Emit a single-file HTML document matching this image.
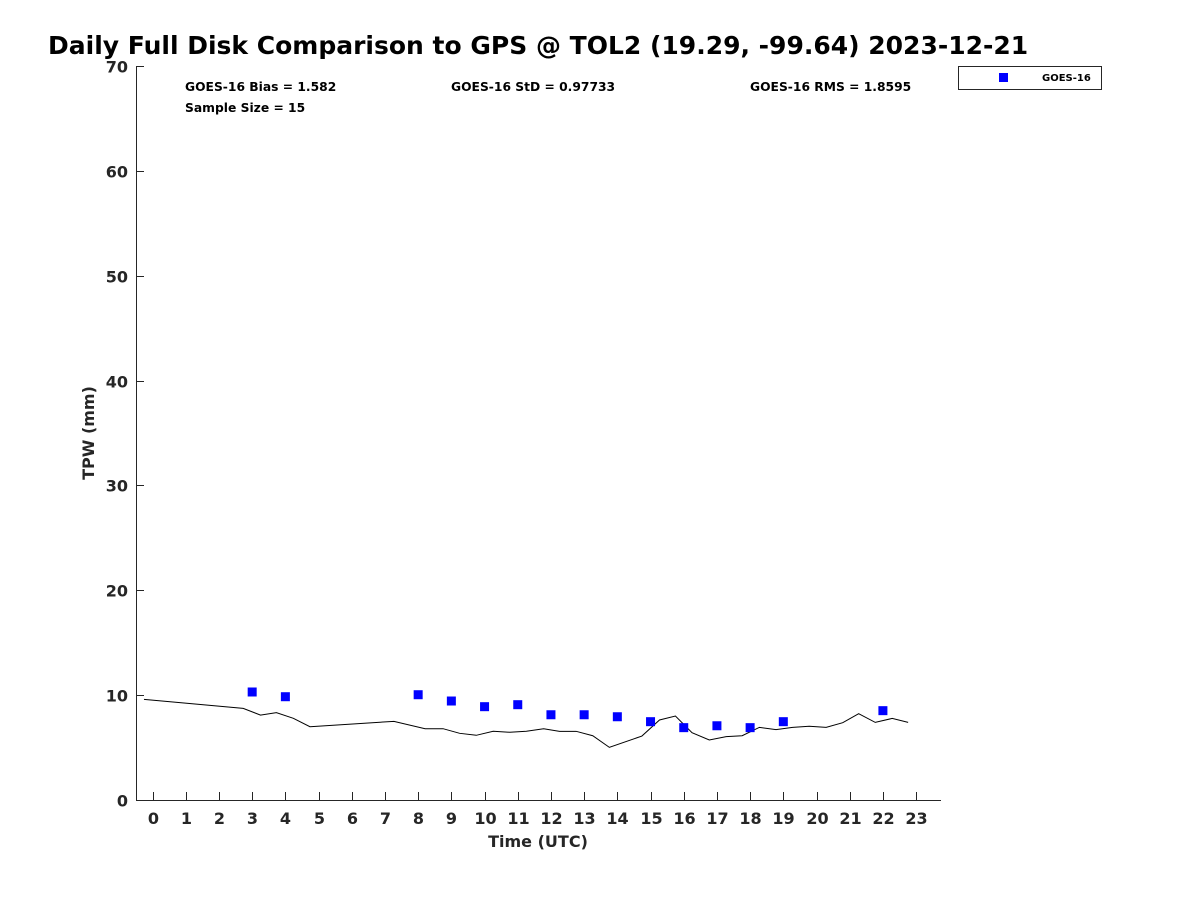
<!DOCTYPE html>
<html><head><meta charset="utf-8"><style>
body{margin:0;background:#fff;}
svg{display:block;font-family:"DejaVu Sans","Liberation Sans",sans-serif;}
</style></head><body>
<svg id="chart" width="1200" height="900">
<text x="48" y="54" font-size="25" font-weight="bold" fill="#000">Daily Full Disk Comparison to GPS @ TOL2 (19.29, -99.64) 2023-12-21</text>
<g font-size="12.3" font-weight="bold" fill="#000">
<text x="185" y="91">GOES-16 Bias = 1.582</text>
<text x="185" y="112">Sample Size = 15</text>
<text x="451" y="91">GOES-16 StD = 0.97733</text>
<text x="750" y="91">GOES-16 RMS = 1.8595</text>
</g>
<g>
<rect x="958.5" y="66.5" width="143" height="23" fill="#fff" stroke="#262626"/>
<rect x="999" y="73" width="9" height="9" fill="#0000ff"/>
<text x="1042" y="81" font-size="10" font-weight="bold" fill="#000">GOES-16</text>
</g>
<g id="axes"></g>
<g id="marks"></g>
<text x="538" y="847" font-size="16" font-weight="bold" fill="#262626" text-anchor="middle">Time (UTC)</text>
<text transform="translate(94,433) rotate(-90)" font-size="16" font-weight="bold" fill="#262626" text-anchor="middle">TPW (mm)</text>
</svg>
<script>
const gpsHours=[-0.26,2.73,3.25,3.73,4.24,4.74,7.27,8.21,8.75,9.25,9.75,10.26,10.76,11.26,11.78,12.26,12.76,13.26,13.76,14.74,15.27,15.75,16.25,16.77,17.28,17.76,18.28,18.78,19.28,19.78,20.29,20.79,21.27,21.77,22.28,22.76];
const gpsValues=[9.6,8.74,8.1,8.33,7.79,6.99,7.5,6.8,6.8,6.36,6.17,6.56,6.46,6.56,6.8,6.55,6.55,6.13,5.02,6.1,7.63,8.01,6.42,5.72,6.04,6.13,6.93,6.71,6.93,7.03,6.93,7.37,8.23,7.4,7.78,7.4];
const goesHours=[3,4,8,9,10,11,12,13,14,15,16,17,18,19,22];
const goesValues=[10.3,9.85,10.04,9.44,8.9,9.09,8.13,8.13,7.94,7.47,6.9,7.08,6.9,7.47,8.52];
const xTicks=[0,1,2,3,4,5,6,7,8,9,10,11,12,13,14,15,16,17,18,19,20,21,22,23];
const yTicks=[0,10,20,30,40,50,60,70];
const X0=136,X1=941,Y0=800,Y1=66,XMIN=-0.5,XMAX=23.75,YMIN=0,YMAX=70;
const x=h=>X0+(h-XMIN)/(XMAX-XMIN)*(X1-X0);
const y=v=>Y0-(v-YMIN)/(YMAX-YMIN)*(Y0-Y1);
const NS="http://www.w3.org/2000/svg";
function mk(tag,attrs,parent){const e=document.createElementNS(NS,tag);for(const k in attrs)e.setAttribute(k,attrs[k]);parent.appendChild(e);return e;}
const axes=document.getElementById('axes'),marks=document.getElementById('marks');
let e=mk('line',{x1:X0,y1:Y0+0.5,x2:X1,y2:Y0+0.5,stroke:'#262626'},axes);


e=mk('line',{x1:X0+0.5,y1:Y1,x2:X0+0.5,y2:Y0,stroke:'#262626'},axes);


xTicks.forEach(t=>{
 const px=Math.round(x(t))+0.5;
 mk('line',{x1:px,y1:Y0,x2:px,y2:Y0-8,stroke:'#262626'},axes);
 const tx=mk('text',{x:px,y:Y0+24,'font-size':16,'font-weight':'bold',fill:'#262626','text-anchor':'middle'},axes);
 tx.textContent=t;
 
 
});
yTicks.forEach(t=>{
 const py=Math.round(y(t))+0.5;
 mk('line',{x1:X0,y1:py,x2:X0+8,y2:py,stroke:'#262626'},axes);
 const tx=mk('text',{x:X0-8,y:py+6,'font-size':16,'font-weight':'bold',fill:'#262626','text-anchor':'end'},axes);
 tx.textContent=t;
 
 
});
const pl=mk('polyline',{points:gpsHours.map((h,i)=>x(h)+','+y(gpsValues[i])).join(' '),fill:'none',stroke:'#000','stroke-width':1},marks);


goesHours.forEach((h,i)=>{
 const r=mk('rect',{x:x(h)-4.5,y:y(goesValues[i])-4.5,width:9,height:9,fill:'#0000ff'},marks);
 
 
});
</script>
</body></html>
